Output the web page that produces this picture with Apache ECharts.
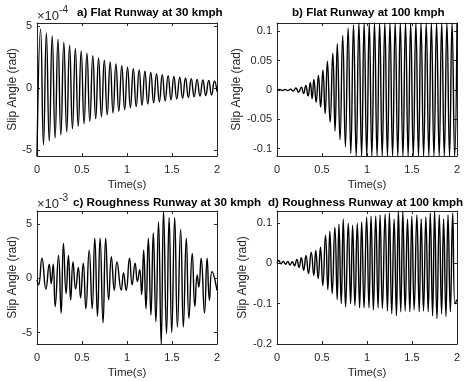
<!DOCTYPE html>
<html>
<head>
<meta charset="utf-8">
<script src="https://cdn.jsdelivr.net/npm/echarts@6/dist/echarts.min.js"></script>
<style>
html, body { margin: 0; padding: 0; background: #fff; }
#main { width: 465px; height: 381px; }
</style>
</head>
<body>
<div id="main"></div>
<script>
// extrema: [time (s), slip angle]
// a) flat runway 30 kmph, units of 1e-4 rad
var flat30 = [
    [0, -5.5], [0.040, 4.75], [0.072, -4.6], [0.104, 4.45], [0.136, -4.3], [0.169, 4.2], [0.201, -4.05],
    [0.233, 3.95], [0.265, -3.8], [0.298, 3.7], [0.330, -3.55], [0.362, 3.45], [0.394, -3.3],
    [0.426, 3.2], [0.458, -3.1], [0.491, 3.0], [0.523, -2.9], [0.555, 2.8], [0.587, -2.7],
    [0.620, 2.6], [0.652, -2.5], [0.684, 2.42], [0.716, -2.33], [0.748, 2.25], [0.780, -2.17],
    [0.813, 2.1], [0.845, -2.02], [0.877, 1.95], [0.909, -1.88], [0.942, 1.8], [0.974, -1.74],
    [1.006, 1.67], [1.038, -1.61], [1.070, 1.55], [1.102, -1.5], [1.135, 1.45], [1.167, -1.4],
    [1.199, 1.35], [1.231, -1.3], [1.264, 1.25], [1.296, -1.2], [1.328, 1.16], [1.360, -1.12],
    [1.392, 1.08], [1.424, -1.04], [1.457, 1.0], [1.489, -0.96], [1.521, 0.93], [1.553, -0.89],
    [1.586, 0.86], [1.618, -0.83], [1.650, 0.8], [1.682, -0.77], [1.714, 0.74], [1.746, -0.71],
    [1.779, 0.69], [1.811, -0.66], [1.843, 0.64], [1.875, -0.61], [1.908, 0.6], [1.940, -0.57],
    [1.972, 0.56], [2.0, -0.3]
];
// b) flat runway 100 kmph, rad
var flat100 = [
    [0, 0], [0.03, 0.0008], [0.06, -0.0008], [0.09, 0.001], [0.12, -0.001], [0.15, 0.0015], [0.18, -0.0018],
    [0.21, 0.0035], [0.24, -0.004], [0.27, 0.005], [0.295, -0.006], [0.32, 0.008], [0.345, -0.01],
    [0.37, 0.013], [0.39, -0.015], [0.41, 0.018], [0.435, -0.021], [0.46, 0.025], [0.485, -0.029],
    [0.51, 0.034], [0.535, -0.04], [0.56, 0.049], [0.59, -0.055], [0.62, 0.063], [0.645, -0.07],
    [0.67, 0.079], [0.70, -0.085], [0.73, 0.093], [0.76, -0.097], [0.79, 0.106], [0.82, -0.108],
    [0.85, 0.111], [0.88, -0.1126], [0.91, 0.1144], [0.94, -0.1126], [0.968, 0.1144], [0.997, -0.1126],
    [1.025, 0.1144], [1.054, -0.1126], [1.083, 0.1144], [1.112, -0.1126], [1.14, 0.1144], [1.169, -0.1126],
    [1.198, 0.1144], [1.227, -0.1126], [1.255, 0.1144], [1.284, -0.1126], [1.313, 0.1144], [1.342, -0.1126],
    [1.37, 0.1144], [1.399, -0.1126], [1.428, 0.1144], [1.457, -0.1126], [1.485, 0.1144], [1.514, -0.1126],
    [1.543, 0.1144], [1.572, -0.1126], [1.60, 0.1144], [1.629, -0.1126], [1.658, 0.1144], [1.687, -0.1126],
    [1.715, 0.1144], [1.744, -0.1126], [1.773, 0.1144], [1.802, -0.1126], [1.83, 0.1144], [1.859, -0.1126],
    [1.888, 0.1144], [1.917, -0.1126], [1.945, 0.1144], [1.974, -0.1126], [2.0, 0.1144]
];
// c) roughness runway 30 kmph, units of 1e-3 rad
var rough30 = [
    [0, -0.15], [0.018, -0.6], [0.055, 1.85], [0.099, -1.0], [0.136, 1.3], [0.158, -0.5], [0.180, 1.3],
    [0.202, -2.6], [0.239, 2.1], [0.268, -3.2], [0.294, 3.2], [0.323, -1.4], [0.349, 2.1], [0.374, -2.0],
    [0.400, 1.5], [0.429, -1.0], [0.459, 1.0], [0.484, -1.8], [0.514, 1.4], [0.543, -2.8], [0.580, 2.6],
    [0.613, -2.8], [0.642, 3.7], [0.672, -3.5], [0.701, 3.7], [0.734, -4.1], [0.763, 3.7], [0.796, -2.0],
    [0.826, 2.0], [0.859, -1.1], [0.888, 1.5], [0.936, -1.1], [0.961, 0.5], [0.991, -1.1], [1.028, 1.85],
    [1.057, -0.6], [1.090, 1.4], [1.116, -0.3], [1.141, 0.8], [1.163, -1.5], [1.185, 2.6], [1.211, -2.8],
    [1.237, 3.7], [1.266, -3.4], [1.292, 4.2], [1.321, -4.0], [1.350, 5.2], [1.380, -6.05], [1.406, 6.2],
    [1.439, -5.1], [1.468, 5.6], [1.497, -5.0], [1.530, 5.6], [1.560, -4.5], [1.596, 4.5], [1.626, -4.5],
    [1.659, 3.7], [1.688, -3.7], [1.725, 2.3], [1.754, -2.6], [1.780, 0.3], [1.798, -0.8], [1.824, 1.85],
    [1.861, -3.2], [1.890, 1.85], [1.916, -2.0], [1.945, 0.6], [2.0, -1.1]
];
// d) roughness runway 100 kmph, rad
var rough100 = [
    [0, 0], [0.02, 0.007], [0.045, -0.001], [0.07, 0.005], [0.095, -0.002], [0.12, 0.005], [0.145, -0.004],
    [0.17, 0.004], [0.195, -0.006], [0.22, 0.01], [0.245, -0.01], [0.27, 0.014], [0.296, -0.017],
    [0.322, 0.02], [0.35, -0.025], [0.38, 0.028], [0.409, -0.03], [0.431, 0.032], [0.457, -0.038],
    [0.483, 0.04], [0.509, -0.055], [0.539, 0.07], [0.565, -0.065], [0.587, 0.08], [0.613, -0.075],
    [0.643, 0.09], [0.669, -0.09], [0.688, 0.097], [0.714, -0.1], [0.736, 0.11], [0.762, -0.108],
    [0.792, 0.1], [0.818, -0.1], [0.840, 0.095], [0.866, -0.105], [0.892, 0.1], [0.918, -0.11],
    [0.941, 0.103], [0.967, -0.11], [0.996, 0.115], [1.022, -0.11], [1.045, 0.117], [1.071, -0.115],
    [1.097, 0.118], [1.123, -0.11], [1.145, 0.12], [1.171, -0.112], [1.201, 0.122], [1.227, -0.118],
    [1.249, 0.125], [1.275, -0.125], [1.301, 0.11], [1.327, -0.13], [1.349, 0.13], [1.375, -0.12],
    [1.398, 0.128], [1.424, -0.118], [1.450, 0.11], [1.476, -0.12], [1.498, 0.117], [1.524, -0.115],
    [1.554, 0.12], [1.580, -0.12], [1.602, 0.11], [1.628, -0.118], [1.654, 0.115], [1.680, -0.12],
    [1.703, 0.125], [1.729, -0.13], [1.751, 0.13], [1.777, -0.137], [1.803, 0.12], [1.829, -0.125],
    [1.851, 0.11], [1.877, -0.132], [1.900, 0.12], [1.926, -0.12], [1.952, 0.125], [1.978, -0.1],
    [2.0, -0.09]
];

var titles = ['a) Flat Runway at 30 kmph', 'b) Flat Runway at 100 kmph',
    'c) Roughness Runway at 30 kmph', 'd) Roughness Runway at 100 kmph'];
var yTicks = [[-5, 0, 5], [-0.1, -0.05, 0, 0.05, 0.1], [-5, 0, 5], [-0.2, -0.1, 0, 0.1]];
var xTicks = [0, 0.5, 1, 1.5, 2];

var panels = [
    { data: flat30, left: 37, top: 23, ymin: -5.5, ymax: 5.25, tx: 77, ty: 7 },
    { data: flat100, left: 277, top: 23, ymin: -0.1126, ymax: 0.1144, tx: 292, ty: 7 },
    { data: rough30, left: 37, top: 211, ymin: -6.05, ymax: 6.2, tx: 73, ty: 197 },
    { data: rough100, left: 277, top: 211, ymin: -0.2, ymax: 0.13, tx: 268, ty: 197 }
];

var ink = '#262626';
var font = 'Liberation Sans, Arial, sans-serif';

var grid = [], xAxis = [], yAxis = [], series = [], title = [];

panels.forEach(function (p, i) {
    grid.push({ left: p.left, top: p.top, width: 180, height: 133, containLabel: false });
    title.push({
        text: titles[i], left: p.tx, top: p.ty, padding: 0,
        textStyle: { fontFamily: font, fontSize: 11.6, fontWeight: 'bold', color: '#000' }
    });
    // bottom and top x axes
    ['bottom', 'top'].forEach(function (pos) {
        xAxis.push({
            type: 'value', gridIndex: i, position: pos, min: 0, max: 2, interval: 0.5,
            name: pos === 'bottom' ? 'Time(s)' : '', nameLocation: 'middle', nameGap: 23,
            nameTextStyle: { fontFamily: font, fontSize: 11.5, color: ink },
            axisLine: { show: true, onZero: false, lineStyle: { color: ink, width: 1 } },
            axisTick: { show: true, inside: true, length: 3, lineStyle: { color: ink }, customValues: xTicks },
            axisLabel: { show: pos === 'bottom', margin: 8, fontFamily: font, fontSize: 11, color: ink, customValues: xTicks },
            splitLine: { show: false }
        });
    });
    ['left', 'right'].forEach(function (pos) {
        yAxis.push({
            type: 'value', gridIndex: i, position: pos, min: p.ymin, max: p.ymax,
            name: pos === 'left' ? 'Slip Angle (rad)' : '', nameLocation: 'middle', nameGap: 17,
            nameTextStyle: { fontFamily: font, fontSize: 12, color: ink },
            axisLine: { show: true, onZero: false, lineStyle: { color: ink, width: 1 } },
            axisTick: { show: true, inside: true, length: 3, lineStyle: { color: ink }, customValues: yTicks[i] },
            axisLabel: { show: pos === 'left', margin: 5, fontFamily: font, fontSize: 11, color: ink, customValues: yTicks[i] },
            splitLine: { show: false }
        });
    });
    series.push({
        type: 'line', xAxisIndex: i * 2, yAxisIndex: i * 2, data: p.data,
        showSymbol: false, smooth: 0.5, clip: true,
        lineStyle: { color: '#000', width: 1.4 }, animation: false
    });
});

var expRich = {
    b: { fontFamily: font, fontSize: 13, fill: ink, padding: [5, 0, 0, 0] },
    s: { fontFamily: font, fontSize: 10, fill: ink, verticalAlign: 'top' }
};

var myChart = echarts.init(document.getElementById('main'));
myChart.setOption({
    animation: false,
    title: title,
    grid: grid,
    xAxis: xAxis,
    yAxis: yAxis,
    series: series,
    graphic: [
        { type: 'text', left: 37, top: 5, style: { text: '{b|×10}{s|-4}', rich: expRich } },
        { type: 'text', left: 37, top: 193, style: { text: '{b|×10}{s|-3}', rich: expRich } }
    ]
});
</script>
</body>
</html>
